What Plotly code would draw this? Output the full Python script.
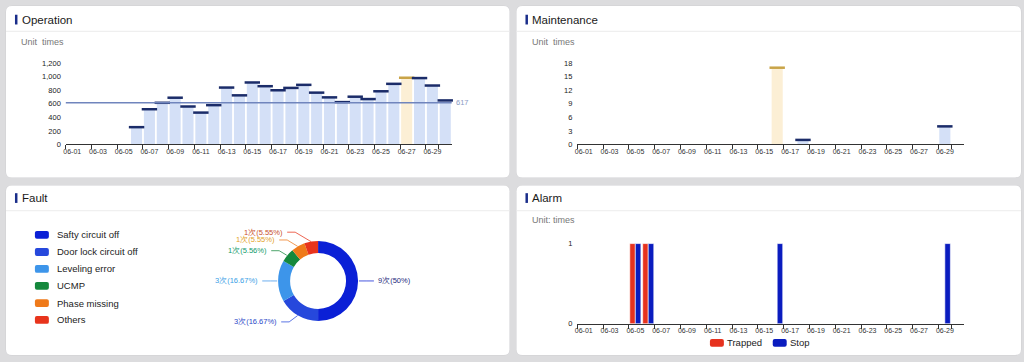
import math
import plotly.graph_objects as go

W, H = 1024, 362

# ---------------- data ----------------
dates = ["06-01", "06-02", "06-03", "06-04", "06-05", "06-06", "06-07", "06-08", "06-09", "06-10",
         "06-11", "06-12", "06-13", "06-14", "06-15", "06-16", "06-17", "06-18", "06-19", "06-20",
         "06-21", "06-22", "06-23", "06-24", "06-25", "06-26", "06-27", "06-28", "06-29", "06-30"]
tick_dates = dates[::2]

operation = [0, 0, 0, 0, 0, 255, 520, 615, 690, 560,
             470, 580, 840, 725, 915, 860, 800, 835, 880, 765,
             695, 625, 705, 670, 785, 895, 985, 980, 870, 650]
operation_avg = 617
operation_ticks = [0, 200, 400, 600, 800, 1000, 1200]

maintenance = [0, 0, 0, 0, 0, 0, 0, 0, 0, 0,
               0, 0, 0, 0, 0, 17, 0, 1, 0, 0,
               0, 0, 0, 0, 0, 0, 0, 0, 4, 0]
maintenance_ticks = [0, 3, 6, 9, 12, 15, 18]

alarm_trapped = [0, 0, 0, 0, 1, 1, 0, 0, 0, 0,
                 0, 0, 0, 0, 0, 0, 0, 0, 0, 0,
                 0, 0, 0, 0, 0, 0, 0, 0, 0, 0]
alarm_stop = [0, 0, 0, 0, 1, 1, 0, 0, 0, 0,
              0, 0, 0, 0, 0, 1, 0, 0, 0, 0,
              0, 0, 0, 0, 0, 0, 0, 0, 1, 0]
alarm_names = ["Trapped", "Stop"]
alarm_ticks = [0, 1]

fault_labels = ["Safty circuit off", "Door lock circuit off", "Leveling error",
                "UCMP", "Phase missing", "Others"]
fault_values = [9, 3, 3, 1, 1, 1]
fault_text = ["9次(50%)", "3次(16.67%)", "3次(16.67%)", "1次(5.56%)", "1次(5.55%)", "1次(5.55%)"]

# ---------------- styles ----------------
FONT = "Arial, Liberation Sans, sans-serif"
BG = "#dcdcde"
BAR_LIGHT = "#d4e0f7"
BAR_HL = "#fcefd5"
CAP_DARK = "#1b2c69"
CAP_HL = "#c9a448"
AVG_LINE = "#7085bd"
TITLE_BAR = "#1a2d8a"
RED = "#e6321e"
BLUE = "#0a1cbf"
fault_colors = ["#0b20d6", "#2648dc", "#3d95ea", "#15883c", "#ef7a1a", "#e8341c"]
fault_text_colors = ["#1c2a7a", "#2a48c8", "#3aa0e6", "#0f9a6a", "#e3a126", "#c8502a"]


def px(x):
    return x / W


def py(y):
    return 1 - y / H


def rrect(x0, y0, x1, y1, r):
    pts = [
        f"M {px(x0 + r)},{py(y0)}",
        f"L {px(x1 - r)},{py(y0)}",
        f"Q {px(x1)},{py(y0)} {px(x1)},{py(y0 + r)}",
        f"L {px(x1)},{py(y1 - r)}",
        f"Q {px(x1)},{py(y1)} {px(x1 - r)},{py(y1)}",
        f"L {px(x0 + r)},{py(y1)}",
        f"Q {px(x0)},{py(y1)} {px(x0)},{py(y1 - r)}",
        f"L {px(x0)},{py(y0 + r)}",
        f"Q {px(x0)},{py(y0)} {px(x0 + r)},{py(y0)}",
        "Z",
    ]
    return " ".join(pts)


shapes = []
annotations = []

cards = [
    (3, 2, 508, 178, "Operation", 28, 16),
    (515, 2, 1021, 178, "Maintenance", 28, 16),
    (3, 186, 508, 360, "Fault", 212, 199),
    (515, 186, 1021, 360, "Alarm", 212, 199),
]
for x0, y0, x1, y1, title, sep_y, ty in cards:
    shapes.append(dict(type="path", path=rrect(x0 - 0.5, y0 - 0.5, x1 + 0.5, y1 + 0.5, 7),
                       xref="paper", yref="paper", fillcolor="#cfcfd2", line=dict(width=0), layer="below"))
    shapes.append(dict(type="path", path=rrect(x0, y0, x1, y1, 6), xref="paper", yref="paper",
                       fillcolor="white", line=dict(width=0), layer="below"))
    shapes.append(dict(type="line", xref="paper", yref="paper", x0=px(x0), x1=px(x1),
                       y0=py(sep_y), y1=py(sep_y), line=dict(color="#ececec", width=1), layer="below"))
    shapes.append(dict(type="rect", xref="paper", yref="paper", x0=px(x0 + 9), x1=px(x0 + 11.5),
                       y0=py(ty + 5), y1=py(ty - 5), fillcolor=TITLE_BAR, line=dict(width=0)))
    annotations.append(dict(text=title, xref="paper", yref="paper", x=px(x0 + 14), y=py(ty),
                            xanchor="left", yanchor="middle", showarrow=False,
                            font=dict(family=FONT, size=11.5, color="#1a1a1a")))

for x, y, t in [(16, 39, "Unit  times"), (529, 39, "Unit  times"), (529, 222, "Unit: times")]:
    annotations.append(dict(text=t, xref="paper", yref="paper", x=px(x), y=py(y), xanchor="left",
                            yanchor="middle", showarrow=False, font=dict(family=FONT, size=9, color="#777")))

fig = go.Figure()

# ---------------- operation ----------------
op_max = max(operation)
fig.add_trace(go.Bar(x=dates, y=operation, xaxis="x", yaxis="y",
                     marker=dict(color=[BAR_HL if v == op_max else BAR_LIGHT for v in operation], line=dict(width=0)),
                     hoverinfo="skip", showlegend=False))
op_cap_x = [d for d, v in zip(dates, operation) if v > 0]
op_cap_y = [v for v in operation if v > 0]
fig.add_trace(go.Scatter(x=op_cap_x, y=op_cap_y, xaxis="x", yaxis="y", mode="markers",
                         marker=dict(symbol="line-ew", size=11,
                                     line=dict(width=2.5, color=[CAP_HL if v == op_max else CAP_DARK for v in op_cap_y])),
                         hoverinfo="skip", showlegend=False, cliponaxis=False))
shapes.append(dict(type="line", xref="x domain", yref="y", x0=0, x1=1, y0=operation_avg, y1=operation_avg,
                   line=dict(color=AVG_LINE, width=1.5)))
annotations.append(dict(text=str(operation_avg), xref="x domain", yref="y", x=1.0, y=operation_avg,
                        xanchor="left", yanchor="middle", xshift=2, showarrow=False,
                        font=dict(family=FONT, size=7.5, color="#8a9ac4")))

# ---------------- maintenance ----------------
mt_max = max(maintenance)
fig.add_trace(go.Bar(x=dates, y=maintenance, xaxis="x2", yaxis="y2",
                     marker=dict(color=[BAR_HL if v == mt_max else BAR_LIGHT for v in maintenance], line=dict(width=0)),
                     hoverinfo="skip", showlegend=False))
mt_cap_x = [d for d, v in zip(dates, maintenance) if v > 0]
mt_cap_y = [v for v in maintenance if v > 0]
fig.add_trace(go.Scatter(x=mt_cap_x, y=mt_cap_y, xaxis="x2", yaxis="y2", mode="markers",
                         marker=dict(symbol="line-ew", size=11,
                                     line=dict(width=2.5, color=[CAP_HL if v == mt_max else CAP_DARK for v in mt_cap_y])),
                         hoverinfo="skip", showlegend=False, cliponaxis=False))

# ---------------- alarm ----------------
for name, vals, col in [(alarm_names[0], alarm_trapped, RED), (alarm_names[1], alarm_stop, BLUE)]:
    fig.add_trace(go.Bar(x=dates, y=vals, name=name, xaxis="x3", yaxis="y3",
                         marker=dict(color=col, line=dict(width=0.6, color="white")),
                         hoverinfo="skip", showlegend=False))
for (name, col), ix in zip([(alarm_names[0], RED), (alarm_names[1], BLUE)], [709, 772]):
    shapes.append(dict(type="path", path=rrect(ix, 343.5, ix + 14, 351.5, 2), xref="paper", yref="paper",
                       fillcolor=col, line=dict(width=0)))
    annotations.append(dict(text=name, xref="paper", yref="paper", x=px(ix + 15), y=py(347.5),
                            xanchor="left", yanchor="middle", showarrow=False,
                            font=dict(family=FONT, size=9.5, color="#222")))

# ---------------- fault pie ----------------
cx, cy, R = 316, 284, 41
fig.add_trace(go.Pie(values=fault_values, labels=fault_labels, hole=0.7, sort=False,
                     direction="clockwise", rotation=0, textinfo="none",
                     marker=dict(colors=fault_colors, line=dict(width=0)),
                     domain=dict(x=[px(cx - R), px(cx + R)], y=[py(cy + R), py(cy - R)]),
                     hoverinfo="skip", showlegend=False))

label_layout = [(374, 284, "left"), (277, 326, "right"), (258, 284, "right"),
                (267, 253, "right"), (275, 242, "right"), (283, 234, "right")]
total = sum(fault_values)
cum = 0
for i, v in enumerate(fault_values):
    mid = (cum + v / 2) / total * 2 * math.pi
    cum += v
    rx = cx + R * math.sin(mid)
    ry = cy - R * math.cos(mid)
    lx, ly, side = label_layout[i]
    if side == "left":
        ex, elx = lx - 2, lx - 9
    else:
        ex, elx = lx + 2, lx + 10
    shapes.append(dict(type="path", xref="paper", yref="paper",
                       path=f"M {px(rx)},{py(ry)} L {px(elx)},{py(ly)} L {px(ex)},{py(ly)}",
                       line=dict(color=fault_colors[i], width=1), opacity=0.75))
    annotations.append(dict(text=fault_text[i], xref="paper", yref="paper", x=px(lx), y=py(ly),
                            xanchor=side, yanchor="middle", showarrow=False,
                            font=dict(family=FONT, size=7.5, color=fault_text_colors[i])))

legend_rows = [236.7, 254.3, 271.7, 289, 306.7, 324]
for lab, col, ly in zip(fault_labels, fault_colors, legend_rows):
    shapes.append(dict(type="path", path=rrect(32, ly - 4, 46, ly + 4, 2), xref="paper", yref="paper",
                       fillcolor=col, line=dict(width=0)))
    annotations.append(dict(text=lab, xref="paper", yref="paper", x=px(52), y=py(ly),
                            xanchor="left", yanchor="middle", showarrow=False,
                            font=dict(family=FONT, size=9.5, color="#222")))

# ---------------- axes ----------------
def xcat(domain, anchor):
    return dict(domain=domain, anchor=anchor, type="category", categoryorder="array", categoryarray=dates,
                range=[-0.5, len(dates) - 0.5], tickvals=tick_dates, tickson="boundaries", tickangle=0,
                showline=True, linecolor="#333", linewidth=1, ticks="outside", ticklen=4, tickcolor="#333",
                tickfont=dict(family=FONT, size=7, color="#333"), showgrid=False, zeroline=False,
                fixedrange=True)


def yval(domain, anchor, rng, ticks, fmt=""):
    return dict(domain=domain, anchor=anchor, range=rng, tickvals=ticks, tickformat=fmt,
                showgrid=False, zeroline=False, showline=False, ticks="", ticklabelstandoff=4,
                tickfont=dict(family=FONT, size=7.5, color="#222"), fixedrange=True)


fig.update_layout(
    width=W, height=H, autosize=False,
    margin=dict(l=0, r=0, t=0, b=0),
    paper_bgcolor=BG, plot_bgcolor="rgba(0,0,0,0)",
    barmode="group", bargap=0.14, bargroupgap=0,
    showlegend=False,
    xaxis=xcat([px(63), px(450)], "y"),
    yaxis=yval([py(144), py(60.7)], "x", [0, 1200], operation_ticks, ","),
    xaxis2=xcat([px(576), px(964)], "y2"),
    yaxis2=yval([py(144), py(60.7)], "x2", [0, 18], maintenance_ticks),
    xaxis3=xcat([px(576), px(964)], "y3"),
    yaxis3=yval([py(328), py(245.7)], "x3", [0, 1], alarm_ticks),
    shapes=shapes,
    annotations=annotations,
    font=dict(family=FONT),
)

fig.write_html("out.html")
